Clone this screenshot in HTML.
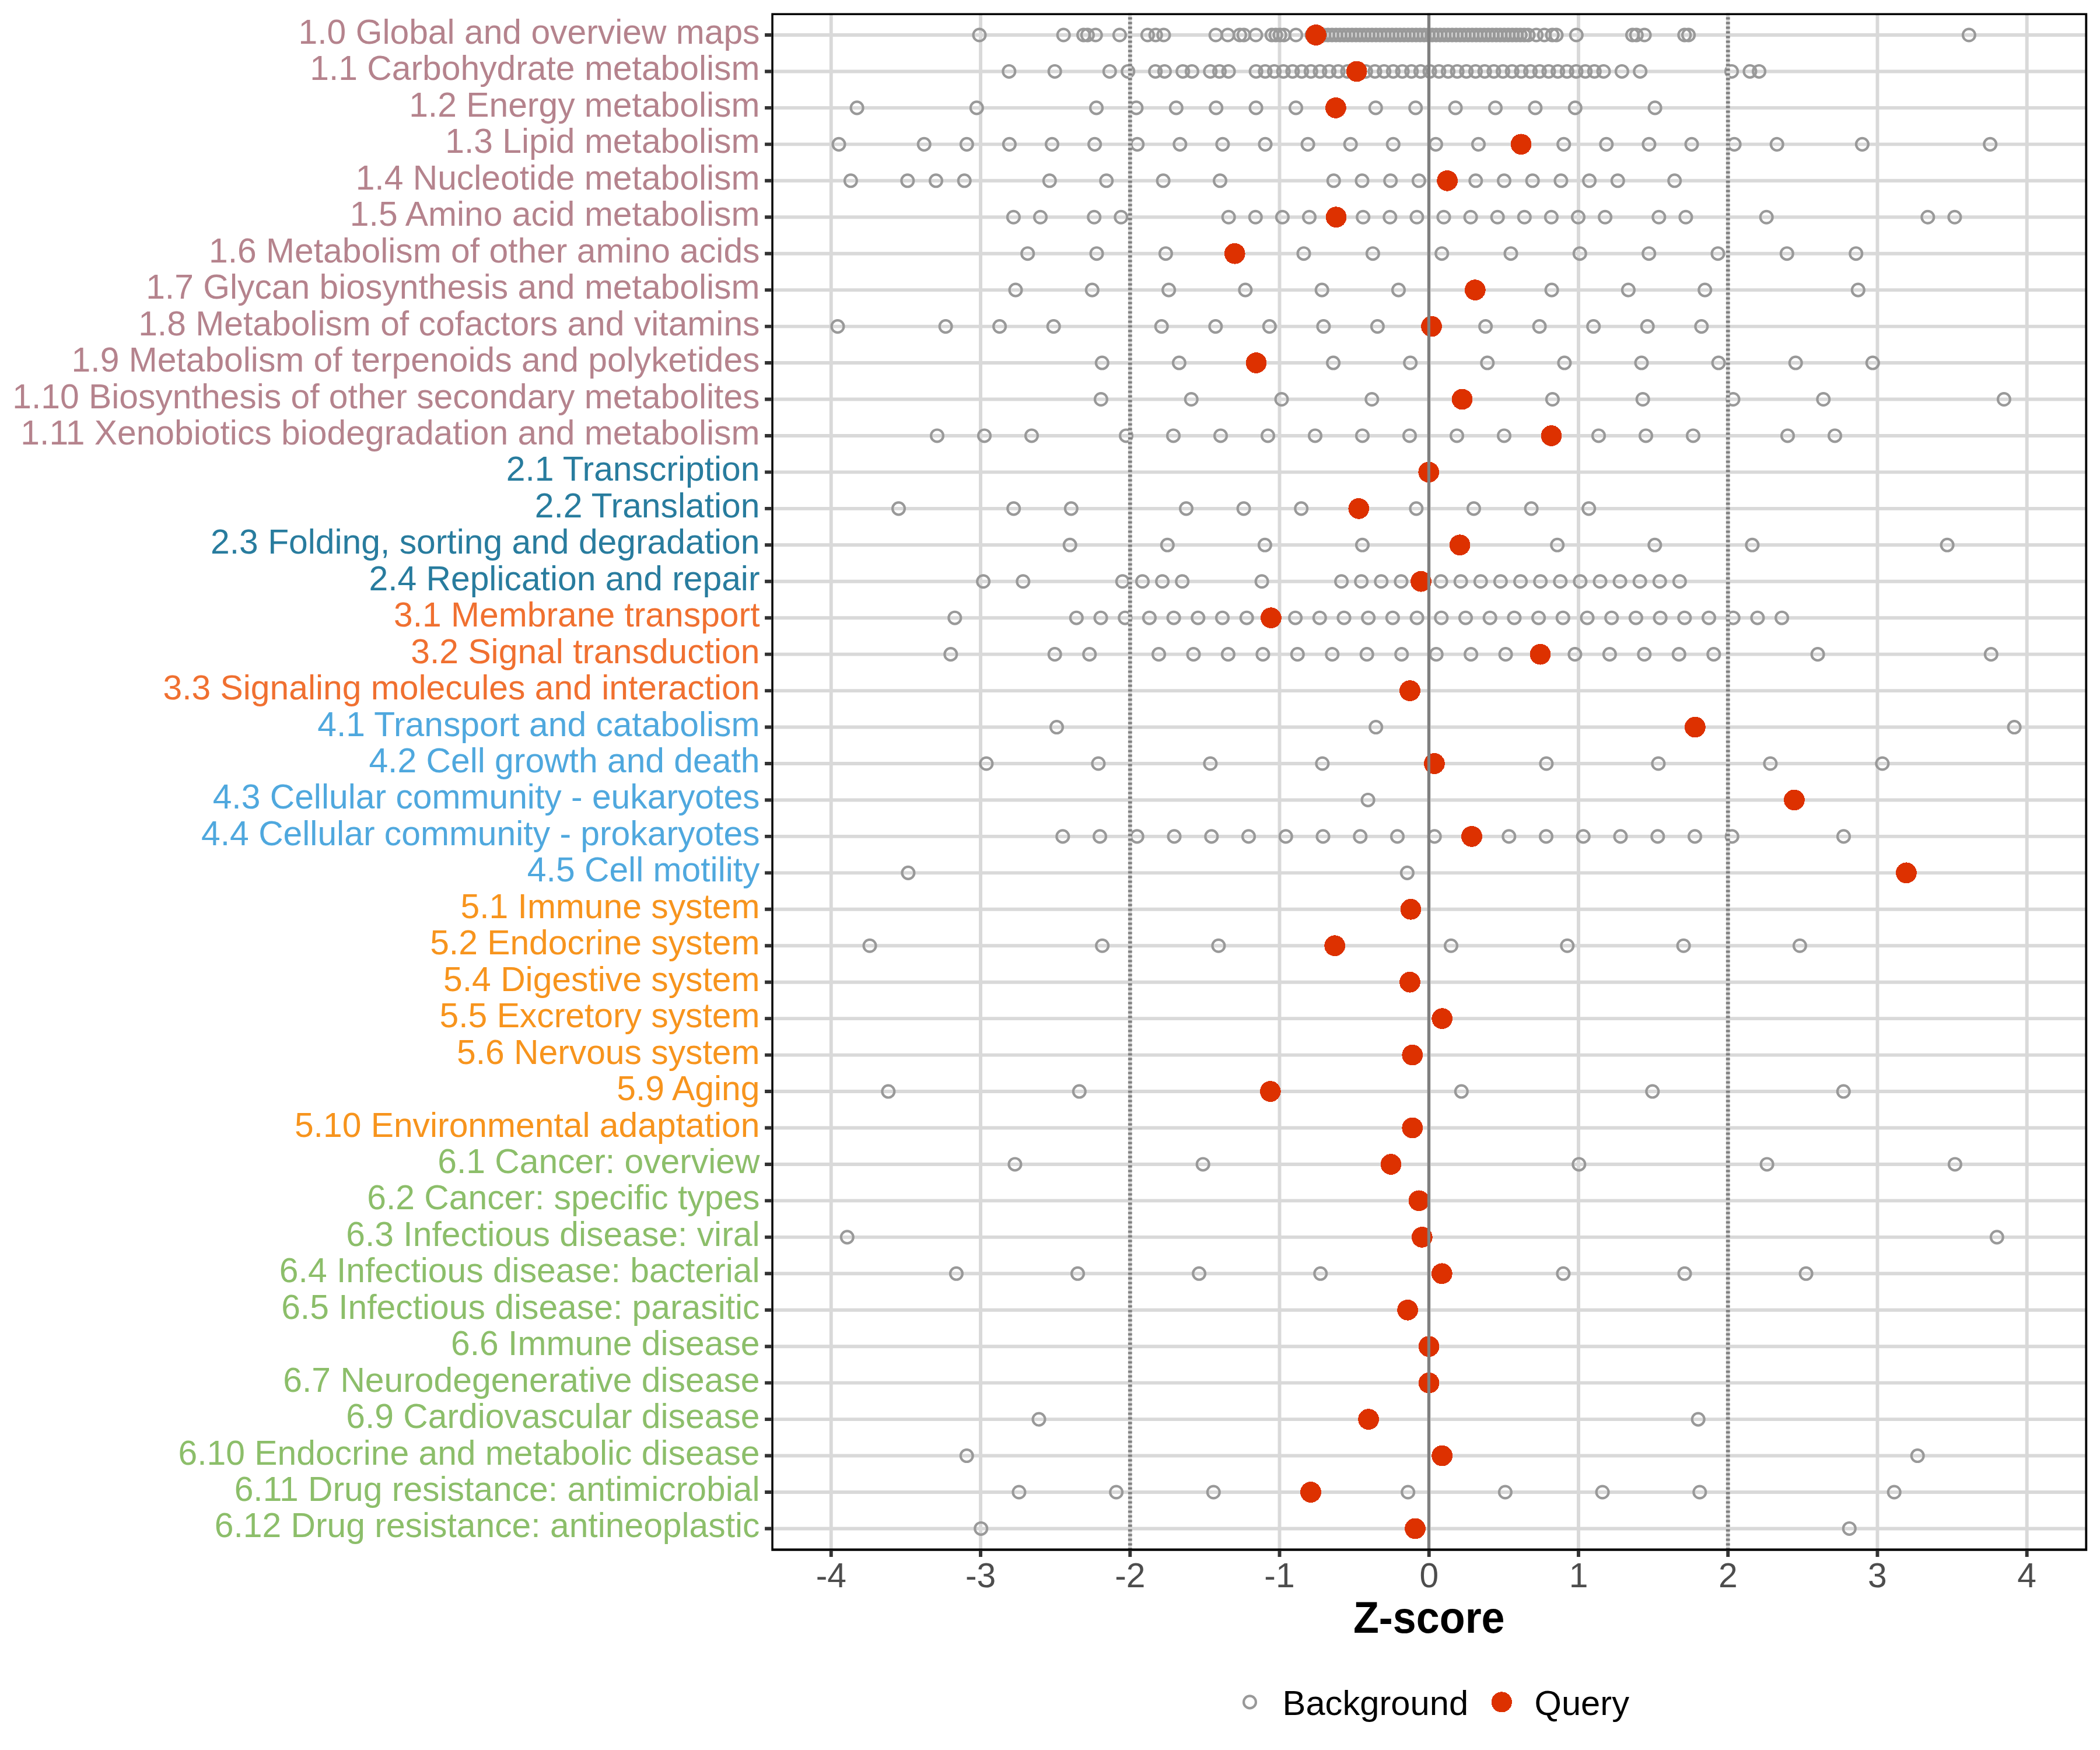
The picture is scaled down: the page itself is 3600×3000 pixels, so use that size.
<!DOCTYPE html><html><head><meta charset="utf-8"><style>html,body{margin:0;padding:0;background:#fff;overflow:hidden}svg{display:block}text{font-family:"Liberation Sans",sans-serif}</style></head><body>
<svg width="3600" height="3000" viewBox="0 0 3600 3000">
<rect width="3600" height="3000" fill="#fff"/>
<clipPath id="pc"><rect x="1322.3" y="22.6" width="2255.8999999999996" height="2636.2000000000003"/></clipPath>
<g clip-path="url(#pc)">
<path d="M1322.3 60.00H3578.2M1322.3 122.45H3578.2M1322.3 184.90H3578.2M1322.3 247.35H3578.2M1322.3 309.80H3578.2M1322.3 372.25H3578.2M1322.3 434.70H3578.2M1322.3 497.15H3578.2M1322.3 559.60H3578.2M1322.3 622.05H3578.2M1322.3 684.50H3578.2M1322.3 746.95H3578.2M1322.3 809.40H3578.2M1322.3 871.85H3578.2M1322.3 934.30H3578.2M1322.3 996.75H3578.2M1322.3 1059.20H3578.2M1322.3 1121.65H3578.2M1322.3 1184.10H3578.2M1322.3 1246.55H3578.2M1322.3 1309.00H3578.2M1322.3 1371.45H3578.2M1322.3 1433.90H3578.2M1322.3 1496.35H3578.2M1322.3 1558.80H3578.2M1322.3 1621.25H3578.2M1322.3 1683.70H3578.2M1322.3 1746.15H3578.2M1322.3 1808.60H3578.2M1322.3 1871.05H3578.2M1322.3 1933.50H3578.2M1322.3 1995.95H3578.2M1322.3 2058.40H3578.2M1322.3 2120.85H3578.2M1322.3 2183.30H3578.2M1322.3 2245.75H3578.2M1322.3 2308.20H3578.2M1322.3 2370.65H3578.2M1322.3 2433.10H3578.2M1322.3 2495.55H3578.2M1322.3 2558.00H3578.2M1322.3 2620.45H3578.2M1424.79 22.6V2658.8M1681.03 22.6V2658.8M1937.27 22.6V2658.8M2193.51 22.6V2658.8M2449.75 22.6V2658.8M2705.99 22.6V2658.8M2962.23 22.6V2658.8M3218.47 22.6V2658.8M3474.71 22.6V2658.8" stroke="#d9d9d9" stroke-width="5.9" fill="none"/>
<circle cx="1679.0" cy="60.00" r="10.45" fill="none" stroke="#999" stroke-width="4.2"/>
<circle cx="1823.2" cy="60.00" r="10.45" fill="none" stroke="#999" stroke-width="4.2"/>
<circle cx="1857.6" cy="60.00" r="10.45" fill="none" stroke="#999" stroke-width="4.2"/>
<circle cx="1864.4" cy="60.00" r="10.45" fill="none" stroke="#999" stroke-width="4.2"/>
<circle cx="1878.2" cy="60.00" r="10.45" fill="none" stroke="#999" stroke-width="4.2"/>
<circle cx="1919.4" cy="60.00" r="10.45" fill="none" stroke="#999" stroke-width="4.2"/>
<circle cx="1967.4" cy="60.00" r="10.45" fill="none" stroke="#999" stroke-width="4.2"/>
<circle cx="1981.2" cy="60.00" r="10.45" fill="none" stroke="#999" stroke-width="4.2"/>
<circle cx="1994.9" cy="60.00" r="10.45" fill="none" stroke="#999" stroke-width="4.2"/>
<circle cx="2084.2" cy="60.00" r="10.45" fill="none" stroke="#999" stroke-width="4.2"/>
<circle cx="2104.8" cy="60.00" r="10.45" fill="none" stroke="#999" stroke-width="4.2"/>
<circle cx="2125.4" cy="60.00" r="10.45" fill="none" stroke="#999" stroke-width="4.2"/>
<circle cx="2132.3" cy="60.00" r="10.45" fill="none" stroke="#999" stroke-width="4.2"/>
<circle cx="2152.9" cy="60.00" r="10.45" fill="none" stroke="#999" stroke-width="4.2"/>
<circle cx="2180.3" cy="60.00" r="10.45" fill="none" stroke="#999" stroke-width="4.2"/>
<circle cx="2187.2" cy="60.00" r="10.45" fill="none" stroke="#999" stroke-width="4.2"/>
<circle cx="2194.1" cy="60.00" r="10.45" fill="none" stroke="#999" stroke-width="4.2"/>
<circle cx="2201.0" cy="60.00" r="10.45" fill="none" stroke="#999" stroke-width="4.2"/>
<circle cx="2221.6" cy="60.00" r="10.45" fill="none" stroke="#999" stroke-width="4.2"/>
<circle cx="2249.0" cy="60.00" r="10.45" fill="none" stroke="#999" stroke-width="4.2"/>
<circle cx="2262.8" cy="60.00" r="10.45" fill="none" stroke="#999" stroke-width="4.2"/>
<circle cx="2269.6" cy="60.00" r="10.45" fill="none" stroke="#999" stroke-width="4.2"/>
<circle cx="2276.5" cy="60.00" r="10.45" fill="none" stroke="#999" stroke-width="4.2"/>
<circle cx="2283.4" cy="60.00" r="10.45" fill="none" stroke="#999" stroke-width="4.2"/>
<circle cx="2290.2" cy="60.00" r="10.45" fill="none" stroke="#999" stroke-width="4.2"/>
<circle cx="2297.1" cy="60.00" r="10.45" fill="none" stroke="#999" stroke-width="4.2"/>
<circle cx="2304.0" cy="60.00" r="10.45" fill="none" stroke="#999" stroke-width="4.2"/>
<circle cx="2310.8" cy="60.00" r="10.45" fill="none" stroke="#999" stroke-width="4.2"/>
<circle cx="2317.7" cy="60.00" r="10.45" fill="none" stroke="#999" stroke-width="4.2"/>
<circle cx="2324.6" cy="60.00" r="10.45" fill="none" stroke="#999" stroke-width="4.2"/>
<circle cx="2331.4" cy="60.00" r="10.45" fill="none" stroke="#999" stroke-width="4.2"/>
<circle cx="2338.3" cy="60.00" r="10.45" fill="none" stroke="#999" stroke-width="4.2"/>
<circle cx="2345.2" cy="60.00" r="10.45" fill="none" stroke="#999" stroke-width="4.2"/>
<circle cx="2352.0" cy="60.00" r="10.45" fill="none" stroke="#999" stroke-width="4.2"/>
<circle cx="2358.9" cy="60.00" r="10.45" fill="none" stroke="#999" stroke-width="4.2"/>
<circle cx="2365.8" cy="60.00" r="10.45" fill="none" stroke="#999" stroke-width="4.2"/>
<circle cx="2372.7" cy="60.00" r="10.45" fill="none" stroke="#999" stroke-width="4.2"/>
<circle cx="2379.5" cy="60.00" r="10.45" fill="none" stroke="#999" stroke-width="4.2"/>
<circle cx="2386.4" cy="60.00" r="10.45" fill="none" stroke="#999" stroke-width="4.2"/>
<circle cx="2393.3" cy="60.00" r="10.45" fill="none" stroke="#999" stroke-width="4.2"/>
<circle cx="2400.1" cy="60.00" r="10.45" fill="none" stroke="#999" stroke-width="4.2"/>
<circle cx="2407.0" cy="60.00" r="10.45" fill="none" stroke="#999" stroke-width="4.2"/>
<circle cx="2413.9" cy="60.00" r="10.45" fill="none" stroke="#999" stroke-width="4.2"/>
<circle cx="2420.7" cy="60.00" r="10.45" fill="none" stroke="#999" stroke-width="4.2"/>
<circle cx="2427.6" cy="60.00" r="10.45" fill="none" stroke="#999" stroke-width="4.2"/>
<circle cx="2434.5" cy="60.00" r="10.45" fill="none" stroke="#999" stroke-width="4.2"/>
<circle cx="2441.3" cy="60.00" r="10.45" fill="none" stroke="#999" stroke-width="4.2"/>
<circle cx="2448.2" cy="60.00" r="10.45" fill="none" stroke="#999" stroke-width="4.2"/>
<circle cx="2455.1" cy="60.00" r="10.45" fill="none" stroke="#999" stroke-width="4.2"/>
<circle cx="2461.9" cy="60.00" r="10.45" fill="none" stroke="#999" stroke-width="4.2"/>
<circle cx="2468.8" cy="60.00" r="10.45" fill="none" stroke="#999" stroke-width="4.2"/>
<circle cx="2475.7" cy="60.00" r="10.45" fill="none" stroke="#999" stroke-width="4.2"/>
<circle cx="2482.5" cy="60.00" r="10.45" fill="none" stroke="#999" stroke-width="4.2"/>
<circle cx="2489.4" cy="60.00" r="10.45" fill="none" stroke="#999" stroke-width="4.2"/>
<circle cx="2496.3" cy="60.00" r="10.45" fill="none" stroke="#999" stroke-width="4.2"/>
<circle cx="2503.1" cy="60.00" r="10.45" fill="none" stroke="#999" stroke-width="4.2"/>
<circle cx="2510.0" cy="60.00" r="10.45" fill="none" stroke="#999" stroke-width="4.2"/>
<circle cx="2516.9" cy="60.00" r="10.45" fill="none" stroke="#999" stroke-width="4.2"/>
<circle cx="2523.7" cy="60.00" r="10.45" fill="none" stroke="#999" stroke-width="4.2"/>
<circle cx="2530.6" cy="60.00" r="10.45" fill="none" stroke="#999" stroke-width="4.2"/>
<circle cx="2537.5" cy="60.00" r="10.45" fill="none" stroke="#999" stroke-width="4.2"/>
<circle cx="2544.4" cy="60.00" r="10.45" fill="none" stroke="#999" stroke-width="4.2"/>
<circle cx="2551.2" cy="60.00" r="10.45" fill="none" stroke="#999" stroke-width="4.2"/>
<circle cx="2558.1" cy="60.00" r="10.45" fill="none" stroke="#999" stroke-width="4.2"/>
<circle cx="2565.0" cy="60.00" r="10.45" fill="none" stroke="#999" stroke-width="4.2"/>
<circle cx="2571.8" cy="60.00" r="10.45" fill="none" stroke="#999" stroke-width="4.2"/>
<circle cx="2578.7" cy="60.00" r="10.45" fill="none" stroke="#999" stroke-width="4.2"/>
<circle cx="2585.6" cy="60.00" r="10.45" fill="none" stroke="#999" stroke-width="4.2"/>
<circle cx="2592.4" cy="60.00" r="10.45" fill="none" stroke="#999" stroke-width="4.2"/>
<circle cx="2599.3" cy="60.00" r="10.45" fill="none" stroke="#999" stroke-width="4.2"/>
<circle cx="2606.2" cy="60.00" r="10.45" fill="none" stroke="#999" stroke-width="4.2"/>
<circle cx="2613.0" cy="60.00" r="10.45" fill="none" stroke="#999" stroke-width="4.2"/>
<circle cx="2619.9" cy="60.00" r="10.45" fill="none" stroke="#999" stroke-width="4.2"/>
<circle cx="2633.6" cy="60.00" r="10.45" fill="none" stroke="#999" stroke-width="4.2"/>
<circle cx="2647.4" cy="60.00" r="10.45" fill="none" stroke="#999" stroke-width="4.2"/>
<circle cx="2661.1" cy="60.00" r="10.45" fill="none" stroke="#999" stroke-width="4.2"/>
<circle cx="2668.0" cy="60.00" r="10.45" fill="none" stroke="#999" stroke-width="4.2"/>
<circle cx="2702.3" cy="60.00" r="10.45" fill="none" stroke="#999" stroke-width="4.2"/>
<circle cx="2798.5" cy="60.00" r="10.45" fill="none" stroke="#999" stroke-width="4.2"/>
<circle cx="2805.3" cy="60.00" r="10.45" fill="none" stroke="#999" stroke-width="4.2"/>
<circle cx="2819.1" cy="60.00" r="10.45" fill="none" stroke="#999" stroke-width="4.2"/>
<circle cx="2887.8" cy="60.00" r="10.45" fill="none" stroke="#999" stroke-width="4.2"/>
<circle cx="2894.6" cy="60.00" r="10.45" fill="none" stroke="#999" stroke-width="4.2"/>
<circle cx="3375.4" cy="60.00" r="10.45" fill="none" stroke="#999" stroke-width="4.2"/>
<circle cx="1729.8" cy="122.45" r="10.45" fill="none" stroke="#999" stroke-width="4.2"/>
<circle cx="1808.2" cy="122.45" r="10.45" fill="none" stroke="#999" stroke-width="4.2"/>
<circle cx="1902.3" cy="122.45" r="10.45" fill="none" stroke="#999" stroke-width="4.2"/>
<circle cx="1933.7" cy="122.45" r="10.45" fill="none" stroke="#999" stroke-width="4.2"/>
<circle cx="1980.7" cy="122.45" r="10.45" fill="none" stroke="#999" stroke-width="4.2"/>
<circle cx="1996.4" cy="122.45" r="10.45" fill="none" stroke="#999" stroke-width="4.2"/>
<circle cx="2027.7" cy="122.45" r="10.45" fill="none" stroke="#999" stroke-width="4.2"/>
<circle cx="2043.4" cy="122.45" r="10.45" fill="none" stroke="#999" stroke-width="4.2"/>
<circle cx="2074.8" cy="122.45" r="10.45" fill="none" stroke="#999" stroke-width="4.2"/>
<circle cx="2090.5" cy="122.45" r="10.45" fill="none" stroke="#999" stroke-width="4.2"/>
<circle cx="2106.1" cy="122.45" r="10.45" fill="none" stroke="#999" stroke-width="4.2"/>
<circle cx="2153.2" cy="122.45" r="10.45" fill="none" stroke="#999" stroke-width="4.2"/>
<circle cx="2168.9" cy="122.45" r="10.45" fill="none" stroke="#999" stroke-width="4.2"/>
<circle cx="2184.5" cy="122.45" r="10.45" fill="none" stroke="#999" stroke-width="4.2"/>
<circle cx="2200.2" cy="122.45" r="10.45" fill="none" stroke="#999" stroke-width="4.2"/>
<circle cx="2215.9" cy="122.45" r="10.45" fill="none" stroke="#999" stroke-width="4.2"/>
<circle cx="2231.6" cy="122.45" r="10.45" fill="none" stroke="#999" stroke-width="4.2"/>
<circle cx="2247.3" cy="122.45" r="10.45" fill="none" stroke="#999" stroke-width="4.2"/>
<circle cx="2262.9" cy="122.45" r="10.45" fill="none" stroke="#999" stroke-width="4.2"/>
<circle cx="2278.6" cy="122.45" r="10.45" fill="none" stroke="#999" stroke-width="4.2"/>
<circle cx="2294.3" cy="122.45" r="10.45" fill="none" stroke="#999" stroke-width="4.2"/>
<circle cx="2310.0" cy="122.45" r="10.45" fill="none" stroke="#999" stroke-width="4.2"/>
<circle cx="2341.3" cy="122.45" r="10.45" fill="none" stroke="#999" stroke-width="4.2"/>
<circle cx="2357.0" cy="122.45" r="10.45" fill="none" stroke="#999" stroke-width="4.2"/>
<circle cx="2372.7" cy="122.45" r="10.45" fill="none" stroke="#999" stroke-width="4.2"/>
<circle cx="2388.4" cy="122.45" r="10.45" fill="none" stroke="#999" stroke-width="4.2"/>
<circle cx="2404.1" cy="122.45" r="10.45" fill="none" stroke="#999" stroke-width="4.2"/>
<circle cx="2419.7" cy="122.45" r="10.45" fill="none" stroke="#999" stroke-width="4.2"/>
<circle cx="2435.4" cy="122.45" r="10.45" fill="none" stroke="#999" stroke-width="4.2"/>
<circle cx="2451.1" cy="122.45" r="10.45" fill="none" stroke="#999" stroke-width="4.2"/>
<circle cx="2466.8" cy="122.45" r="10.45" fill="none" stroke="#999" stroke-width="4.2"/>
<circle cx="2482.5" cy="122.45" r="10.45" fill="none" stroke="#999" stroke-width="4.2"/>
<circle cx="2498.1" cy="122.45" r="10.45" fill="none" stroke="#999" stroke-width="4.2"/>
<circle cx="2513.8" cy="122.45" r="10.45" fill="none" stroke="#999" stroke-width="4.2"/>
<circle cx="2529.5" cy="122.45" r="10.45" fill="none" stroke="#999" stroke-width="4.2"/>
<circle cx="2545.2" cy="122.45" r="10.45" fill="none" stroke="#999" stroke-width="4.2"/>
<circle cx="2560.9" cy="122.45" r="10.45" fill="none" stroke="#999" stroke-width="4.2"/>
<circle cx="2576.5" cy="122.45" r="10.45" fill="none" stroke="#999" stroke-width="4.2"/>
<circle cx="2592.2" cy="122.45" r="10.45" fill="none" stroke="#999" stroke-width="4.2"/>
<circle cx="2607.9" cy="122.45" r="10.45" fill="none" stroke="#999" stroke-width="4.2"/>
<circle cx="2623.6" cy="122.45" r="10.45" fill="none" stroke="#999" stroke-width="4.2"/>
<circle cx="2639.3" cy="122.45" r="10.45" fill="none" stroke="#999" stroke-width="4.2"/>
<circle cx="2654.9" cy="122.45" r="10.45" fill="none" stroke="#999" stroke-width="4.2"/>
<circle cx="2670.6" cy="122.45" r="10.45" fill="none" stroke="#999" stroke-width="4.2"/>
<circle cx="2686.3" cy="122.45" r="10.45" fill="none" stroke="#999" stroke-width="4.2"/>
<circle cx="2702.0" cy="122.45" r="10.45" fill="none" stroke="#999" stroke-width="4.2"/>
<circle cx="2717.7" cy="122.45" r="10.45" fill="none" stroke="#999" stroke-width="4.2"/>
<circle cx="2733.3" cy="122.45" r="10.45" fill="none" stroke="#999" stroke-width="4.2"/>
<circle cx="2749.0" cy="122.45" r="10.45" fill="none" stroke="#999" stroke-width="4.2"/>
<circle cx="2780.4" cy="122.45" r="10.45" fill="none" stroke="#999" stroke-width="4.2"/>
<circle cx="2811.7" cy="122.45" r="10.45" fill="none" stroke="#999" stroke-width="4.2"/>
<circle cx="2968.5" cy="122.45" r="10.45" fill="none" stroke="#999" stroke-width="4.2"/>
<circle cx="2999.9" cy="122.45" r="10.45" fill="none" stroke="#999" stroke-width="4.2"/>
<circle cx="3015.6" cy="122.45" r="10.45" fill="none" stroke="#999" stroke-width="4.2"/>
<circle cx="1469.1" cy="184.90" r="10.45" fill="none" stroke="#999" stroke-width="4.2"/>
<circle cx="1674.3" cy="184.90" r="10.45" fill="none" stroke="#999" stroke-width="4.2"/>
<circle cx="1879.5" cy="184.90" r="10.45" fill="none" stroke="#999" stroke-width="4.2"/>
<circle cx="1947.9" cy="184.90" r="10.45" fill="none" stroke="#999" stroke-width="4.2"/>
<circle cx="2016.3" cy="184.90" r="10.45" fill="none" stroke="#999" stroke-width="4.2"/>
<circle cx="2084.7" cy="184.90" r="10.45" fill="none" stroke="#999" stroke-width="4.2"/>
<circle cx="2153.1" cy="184.90" r="10.45" fill="none" stroke="#999" stroke-width="4.2"/>
<circle cx="2221.5" cy="184.90" r="10.45" fill="none" stroke="#999" stroke-width="4.2"/>
<circle cx="2358.3" cy="184.90" r="10.45" fill="none" stroke="#999" stroke-width="4.2"/>
<circle cx="2426.7" cy="184.90" r="10.45" fill="none" stroke="#999" stroke-width="4.2"/>
<circle cx="2495.1" cy="184.90" r="10.45" fill="none" stroke="#999" stroke-width="4.2"/>
<circle cx="2563.5" cy="184.90" r="10.45" fill="none" stroke="#999" stroke-width="4.2"/>
<circle cx="2631.9" cy="184.90" r="10.45" fill="none" stroke="#999" stroke-width="4.2"/>
<circle cx="2700.3" cy="184.90" r="10.45" fill="none" stroke="#999" stroke-width="4.2"/>
<circle cx="2837.1" cy="184.90" r="10.45" fill="none" stroke="#999" stroke-width="4.2"/>
<circle cx="1438.0" cy="247.35" r="10.45" fill="none" stroke="#999" stroke-width="4.2"/>
<circle cx="1584.2" cy="247.35" r="10.45" fill="none" stroke="#999" stroke-width="4.2"/>
<circle cx="1657.3" cy="247.35" r="10.45" fill="none" stroke="#999" stroke-width="4.2"/>
<circle cx="1730.4" cy="247.35" r="10.45" fill="none" stroke="#999" stroke-width="4.2"/>
<circle cx="1803.5" cy="247.35" r="10.45" fill="none" stroke="#999" stroke-width="4.2"/>
<circle cx="1876.6" cy="247.35" r="10.45" fill="none" stroke="#999" stroke-width="4.2"/>
<circle cx="1949.7" cy="247.35" r="10.45" fill="none" stroke="#999" stroke-width="4.2"/>
<circle cx="2022.8" cy="247.35" r="10.45" fill="none" stroke="#999" stroke-width="4.2"/>
<circle cx="2095.9" cy="247.35" r="10.45" fill="none" stroke="#999" stroke-width="4.2"/>
<circle cx="2169.0" cy="247.35" r="10.45" fill="none" stroke="#999" stroke-width="4.2"/>
<circle cx="2242.1" cy="247.35" r="10.45" fill="none" stroke="#999" stroke-width="4.2"/>
<circle cx="2315.2" cy="247.35" r="10.45" fill="none" stroke="#999" stroke-width="4.2"/>
<circle cx="2388.3" cy="247.35" r="10.45" fill="none" stroke="#999" stroke-width="4.2"/>
<circle cx="2461.4" cy="247.35" r="10.45" fill="none" stroke="#999" stroke-width="4.2"/>
<circle cx="2534.5" cy="247.35" r="10.45" fill="none" stroke="#999" stroke-width="4.2"/>
<circle cx="2680.7" cy="247.35" r="10.45" fill="none" stroke="#999" stroke-width="4.2"/>
<circle cx="2753.8" cy="247.35" r="10.45" fill="none" stroke="#999" stroke-width="4.2"/>
<circle cx="2826.9" cy="247.35" r="10.45" fill="none" stroke="#999" stroke-width="4.2"/>
<circle cx="2900.0" cy="247.35" r="10.45" fill="none" stroke="#999" stroke-width="4.2"/>
<circle cx="2973.1" cy="247.35" r="10.45" fill="none" stroke="#999" stroke-width="4.2"/>
<circle cx="3046.2" cy="247.35" r="10.45" fill="none" stroke="#999" stroke-width="4.2"/>
<circle cx="3192.4" cy="247.35" r="10.45" fill="none" stroke="#999" stroke-width="4.2"/>
<circle cx="3411.7" cy="247.35" r="10.45" fill="none" stroke="#999" stroke-width="4.2"/>
<circle cx="1458.4" cy="309.80" r="10.45" fill="none" stroke="#999" stroke-width="4.2"/>
<circle cx="1555.8" cy="309.80" r="10.45" fill="none" stroke="#999" stroke-width="4.2"/>
<circle cx="1604.5" cy="309.80" r="10.45" fill="none" stroke="#999" stroke-width="4.2"/>
<circle cx="1653.2" cy="309.80" r="10.45" fill="none" stroke="#999" stroke-width="4.2"/>
<circle cx="1799.3" cy="309.80" r="10.45" fill="none" stroke="#999" stroke-width="4.2"/>
<circle cx="1896.7" cy="309.80" r="10.45" fill="none" stroke="#999" stroke-width="4.2"/>
<circle cx="1994.1" cy="309.80" r="10.45" fill="none" stroke="#999" stroke-width="4.2"/>
<circle cx="2091.5" cy="309.80" r="10.45" fill="none" stroke="#999" stroke-width="4.2"/>
<circle cx="2286.3" cy="309.80" r="10.45" fill="none" stroke="#999" stroke-width="4.2"/>
<circle cx="2335.0" cy="309.80" r="10.45" fill="none" stroke="#999" stroke-width="4.2"/>
<circle cx="2383.7" cy="309.80" r="10.45" fill="none" stroke="#999" stroke-width="4.2"/>
<circle cx="2432.4" cy="309.80" r="10.45" fill="none" stroke="#999" stroke-width="4.2"/>
<circle cx="2529.8" cy="309.80" r="10.45" fill="none" stroke="#999" stroke-width="4.2"/>
<circle cx="2578.5" cy="309.80" r="10.45" fill="none" stroke="#999" stroke-width="4.2"/>
<circle cx="2627.2" cy="309.80" r="10.45" fill="none" stroke="#999" stroke-width="4.2"/>
<circle cx="2675.9" cy="309.80" r="10.45" fill="none" stroke="#999" stroke-width="4.2"/>
<circle cx="2724.6" cy="309.80" r="10.45" fill="none" stroke="#999" stroke-width="4.2"/>
<circle cx="2773.3" cy="309.80" r="10.45" fill="none" stroke="#999" stroke-width="4.2"/>
<circle cx="2870.7" cy="309.80" r="10.45" fill="none" stroke="#999" stroke-width="4.2"/>
<circle cx="1737.4" cy="372.25" r="10.45" fill="none" stroke="#999" stroke-width="4.2"/>
<circle cx="1783.5" cy="372.25" r="10.45" fill="none" stroke="#999" stroke-width="4.2"/>
<circle cx="1875.7" cy="372.25" r="10.45" fill="none" stroke="#999" stroke-width="4.2"/>
<circle cx="1921.8" cy="372.25" r="10.45" fill="none" stroke="#999" stroke-width="4.2"/>
<circle cx="2106.2" cy="372.25" r="10.45" fill="none" stroke="#999" stroke-width="4.2"/>
<circle cx="2152.3" cy="372.25" r="10.45" fill="none" stroke="#999" stroke-width="4.2"/>
<circle cx="2198.4" cy="372.25" r="10.45" fill="none" stroke="#999" stroke-width="4.2"/>
<circle cx="2244.5" cy="372.25" r="10.45" fill="none" stroke="#999" stroke-width="4.2"/>
<circle cx="2336.7" cy="372.25" r="10.45" fill="none" stroke="#999" stroke-width="4.2"/>
<circle cx="2382.8" cy="372.25" r="10.45" fill="none" stroke="#999" stroke-width="4.2"/>
<circle cx="2428.9" cy="372.25" r="10.45" fill="none" stroke="#999" stroke-width="4.2"/>
<circle cx="2475.0" cy="372.25" r="10.45" fill="none" stroke="#999" stroke-width="4.2"/>
<circle cx="2521.1" cy="372.25" r="10.45" fill="none" stroke="#999" stroke-width="4.2"/>
<circle cx="2567.2" cy="372.25" r="10.45" fill="none" stroke="#999" stroke-width="4.2"/>
<circle cx="2613.3" cy="372.25" r="10.45" fill="none" stroke="#999" stroke-width="4.2"/>
<circle cx="2659.4" cy="372.25" r="10.45" fill="none" stroke="#999" stroke-width="4.2"/>
<circle cx="2705.5" cy="372.25" r="10.45" fill="none" stroke="#999" stroke-width="4.2"/>
<circle cx="2751.6" cy="372.25" r="10.45" fill="none" stroke="#999" stroke-width="4.2"/>
<circle cx="2843.8" cy="372.25" r="10.45" fill="none" stroke="#999" stroke-width="4.2"/>
<circle cx="2889.9" cy="372.25" r="10.45" fill="none" stroke="#999" stroke-width="4.2"/>
<circle cx="3028.2" cy="372.25" r="10.45" fill="none" stroke="#999" stroke-width="4.2"/>
<circle cx="3304.8" cy="372.25" r="10.45" fill="none" stroke="#999" stroke-width="4.2"/>
<circle cx="3350.9" cy="372.25" r="10.45" fill="none" stroke="#999" stroke-width="4.2"/>
<circle cx="1761.7" cy="434.70" r="10.45" fill="none" stroke="#999" stroke-width="4.2"/>
<circle cx="1880.0" cy="434.70" r="10.45" fill="none" stroke="#999" stroke-width="4.2"/>
<circle cx="1998.4" cy="434.70" r="10.45" fill="none" stroke="#999" stroke-width="4.2"/>
<circle cx="2235.0" cy="434.70" r="10.45" fill="none" stroke="#999" stroke-width="4.2"/>
<circle cx="2353.4" cy="434.70" r="10.45" fill="none" stroke="#999" stroke-width="4.2"/>
<circle cx="2471.7" cy="434.70" r="10.45" fill="none" stroke="#999" stroke-width="4.2"/>
<circle cx="2590.0" cy="434.70" r="10.45" fill="none" stroke="#999" stroke-width="4.2"/>
<circle cx="2708.3" cy="434.70" r="10.45" fill="none" stroke="#999" stroke-width="4.2"/>
<circle cx="2826.7" cy="434.70" r="10.45" fill="none" stroke="#999" stroke-width="4.2"/>
<circle cx="2945.0" cy="434.70" r="10.45" fill="none" stroke="#999" stroke-width="4.2"/>
<circle cx="3063.3" cy="434.70" r="10.45" fill="none" stroke="#999" stroke-width="4.2"/>
<circle cx="3181.7" cy="434.70" r="10.45" fill="none" stroke="#999" stroke-width="4.2"/>
<circle cx="1741.0" cy="497.15" r="10.45" fill="none" stroke="#999" stroke-width="4.2"/>
<circle cx="1872.3" cy="497.15" r="10.45" fill="none" stroke="#999" stroke-width="4.2"/>
<circle cx="2003.6" cy="497.15" r="10.45" fill="none" stroke="#999" stroke-width="4.2"/>
<circle cx="2134.9" cy="497.15" r="10.45" fill="none" stroke="#999" stroke-width="4.2"/>
<circle cx="2266.2" cy="497.15" r="10.45" fill="none" stroke="#999" stroke-width="4.2"/>
<circle cx="2397.5" cy="497.15" r="10.45" fill="none" stroke="#999" stroke-width="4.2"/>
<circle cx="2660.1" cy="497.15" r="10.45" fill="none" stroke="#999" stroke-width="4.2"/>
<circle cx="2791.4" cy="497.15" r="10.45" fill="none" stroke="#999" stroke-width="4.2"/>
<circle cx="2922.7" cy="497.15" r="10.45" fill="none" stroke="#999" stroke-width="4.2"/>
<circle cx="3185.3" cy="497.15" r="10.45" fill="none" stroke="#999" stroke-width="4.2"/>
<circle cx="1436.0" cy="559.60" r="10.45" fill="none" stroke="#999" stroke-width="4.2"/>
<circle cx="1621.1" cy="559.60" r="10.45" fill="none" stroke="#999" stroke-width="4.2"/>
<circle cx="1713.6" cy="559.60" r="10.45" fill="none" stroke="#999" stroke-width="4.2"/>
<circle cx="1806.2" cy="559.60" r="10.45" fill="none" stroke="#999" stroke-width="4.2"/>
<circle cx="1991.2" cy="559.60" r="10.45" fill="none" stroke="#999" stroke-width="4.2"/>
<circle cx="2083.8" cy="559.60" r="10.45" fill="none" stroke="#999" stroke-width="4.2"/>
<circle cx="2176.3" cy="559.60" r="10.45" fill="none" stroke="#999" stroke-width="4.2"/>
<circle cx="2268.9" cy="559.60" r="10.45" fill="none" stroke="#999" stroke-width="4.2"/>
<circle cx="2361.4" cy="559.60" r="10.45" fill="none" stroke="#999" stroke-width="4.2"/>
<circle cx="2546.6" cy="559.60" r="10.45" fill="none" stroke="#999" stroke-width="4.2"/>
<circle cx="2639.1" cy="559.60" r="10.45" fill="none" stroke="#999" stroke-width="4.2"/>
<circle cx="2731.7" cy="559.60" r="10.45" fill="none" stroke="#999" stroke-width="4.2"/>
<circle cx="2824.2" cy="559.60" r="10.45" fill="none" stroke="#999" stroke-width="4.2"/>
<circle cx="2916.8" cy="559.60" r="10.45" fill="none" stroke="#999" stroke-width="4.2"/>
<circle cx="1889.3" cy="622.05" r="10.45" fill="none" stroke="#999" stroke-width="4.2"/>
<circle cx="2021.4" cy="622.05" r="10.45" fill="none" stroke="#999" stroke-width="4.2"/>
<circle cx="2285.6" cy="622.05" r="10.45" fill="none" stroke="#999" stroke-width="4.2"/>
<circle cx="2417.7" cy="622.05" r="10.45" fill="none" stroke="#999" stroke-width="4.2"/>
<circle cx="2549.8" cy="622.05" r="10.45" fill="none" stroke="#999" stroke-width="4.2"/>
<circle cx="2681.9" cy="622.05" r="10.45" fill="none" stroke="#999" stroke-width="4.2"/>
<circle cx="2814.0" cy="622.05" r="10.45" fill="none" stroke="#999" stroke-width="4.2"/>
<circle cx="2946.1" cy="622.05" r="10.45" fill="none" stroke="#999" stroke-width="4.2"/>
<circle cx="3078.2" cy="622.05" r="10.45" fill="none" stroke="#999" stroke-width="4.2"/>
<circle cx="3210.3" cy="622.05" r="10.45" fill="none" stroke="#999" stroke-width="4.2"/>
<circle cx="1887.4" cy="684.50" r="10.45" fill="none" stroke="#999" stroke-width="4.2"/>
<circle cx="2042.2" cy="684.50" r="10.45" fill="none" stroke="#999" stroke-width="4.2"/>
<circle cx="2197.0" cy="684.50" r="10.45" fill="none" stroke="#999" stroke-width="4.2"/>
<circle cx="2351.8" cy="684.50" r="10.45" fill="none" stroke="#999" stroke-width="4.2"/>
<circle cx="2661.4" cy="684.50" r="10.45" fill="none" stroke="#999" stroke-width="4.2"/>
<circle cx="2816.2" cy="684.50" r="10.45" fill="none" stroke="#999" stroke-width="4.2"/>
<circle cx="2971.0" cy="684.50" r="10.45" fill="none" stroke="#999" stroke-width="4.2"/>
<circle cx="3125.8" cy="684.50" r="10.45" fill="none" stroke="#999" stroke-width="4.2"/>
<circle cx="3435.4" cy="684.50" r="10.45" fill="none" stroke="#999" stroke-width="4.2"/>
<circle cx="1606.5" cy="746.95" r="10.45" fill="none" stroke="#999" stroke-width="4.2"/>
<circle cx="1687.5" cy="746.95" r="10.45" fill="none" stroke="#999" stroke-width="4.2"/>
<circle cx="1768.5" cy="746.95" r="10.45" fill="none" stroke="#999" stroke-width="4.2"/>
<circle cx="1930.5" cy="746.95" r="10.45" fill="none" stroke="#999" stroke-width="4.2"/>
<circle cx="2011.5" cy="746.95" r="10.45" fill="none" stroke="#999" stroke-width="4.2"/>
<circle cx="2092.5" cy="746.95" r="10.45" fill="none" stroke="#999" stroke-width="4.2"/>
<circle cx="2173.5" cy="746.95" r="10.45" fill="none" stroke="#999" stroke-width="4.2"/>
<circle cx="2254.5" cy="746.95" r="10.45" fill="none" stroke="#999" stroke-width="4.2"/>
<circle cx="2335.5" cy="746.95" r="10.45" fill="none" stroke="#999" stroke-width="4.2"/>
<circle cx="2416.5" cy="746.95" r="10.45" fill="none" stroke="#999" stroke-width="4.2"/>
<circle cx="2497.5" cy="746.95" r="10.45" fill="none" stroke="#999" stroke-width="4.2"/>
<circle cx="2578.5" cy="746.95" r="10.45" fill="none" stroke="#999" stroke-width="4.2"/>
<circle cx="2740.5" cy="746.95" r="10.45" fill="none" stroke="#999" stroke-width="4.2"/>
<circle cx="2821.5" cy="746.95" r="10.45" fill="none" stroke="#999" stroke-width="4.2"/>
<circle cx="2902.5" cy="746.95" r="10.45" fill="none" stroke="#999" stroke-width="4.2"/>
<circle cx="3064.5" cy="746.95" r="10.45" fill="none" stroke="#999" stroke-width="4.2"/>
<circle cx="3145.5" cy="746.95" r="10.45" fill="none" stroke="#999" stroke-width="4.2"/>
<circle cx="1540.5" cy="871.85" r="10.45" fill="none" stroke="#999" stroke-width="4.2"/>
<circle cx="1737.7" cy="871.85" r="10.45" fill="none" stroke="#999" stroke-width="4.2"/>
<circle cx="1836.3" cy="871.85" r="10.45" fill="none" stroke="#999" stroke-width="4.2"/>
<circle cx="2033.5" cy="871.85" r="10.45" fill="none" stroke="#999" stroke-width="4.2"/>
<circle cx="2132.1" cy="871.85" r="10.45" fill="none" stroke="#999" stroke-width="4.2"/>
<circle cx="2230.7" cy="871.85" r="10.45" fill="none" stroke="#999" stroke-width="4.2"/>
<circle cx="2427.9" cy="871.85" r="10.45" fill="none" stroke="#999" stroke-width="4.2"/>
<circle cx="2526.5" cy="871.85" r="10.45" fill="none" stroke="#999" stroke-width="4.2"/>
<circle cx="2625.1" cy="871.85" r="10.45" fill="none" stroke="#999" stroke-width="4.2"/>
<circle cx="2723.7" cy="871.85" r="10.45" fill="none" stroke="#999" stroke-width="4.2"/>
<circle cx="1834.2" cy="934.30" r="10.45" fill="none" stroke="#999" stroke-width="4.2"/>
<circle cx="2001.3" cy="934.30" r="10.45" fill="none" stroke="#999" stroke-width="4.2"/>
<circle cx="2168.4" cy="934.30" r="10.45" fill="none" stroke="#999" stroke-width="4.2"/>
<circle cx="2335.5" cy="934.30" r="10.45" fill="none" stroke="#999" stroke-width="4.2"/>
<circle cx="2669.7" cy="934.30" r="10.45" fill="none" stroke="#999" stroke-width="4.2"/>
<circle cx="2836.8" cy="934.30" r="10.45" fill="none" stroke="#999" stroke-width="4.2"/>
<circle cx="3003.9" cy="934.30" r="10.45" fill="none" stroke="#999" stroke-width="4.2"/>
<circle cx="3338.1" cy="934.30" r="10.45" fill="none" stroke="#999" stroke-width="4.2"/>
<circle cx="1685.6" cy="996.75" r="10.45" fill="none" stroke="#999" stroke-width="4.2"/>
<circle cx="1753.8" cy="996.75" r="10.45" fill="none" stroke="#999" stroke-width="4.2"/>
<circle cx="1924.3" cy="996.75" r="10.45" fill="none" stroke="#999" stroke-width="4.2"/>
<circle cx="1958.5" cy="996.75" r="10.45" fill="none" stroke="#999" stroke-width="4.2"/>
<circle cx="1992.6" cy="996.75" r="10.45" fill="none" stroke="#999" stroke-width="4.2"/>
<circle cx="2026.7" cy="996.75" r="10.45" fill="none" stroke="#999" stroke-width="4.2"/>
<circle cx="2163.1" cy="996.75" r="10.45" fill="none" stroke="#999" stroke-width="4.2"/>
<circle cx="2299.6" cy="996.75" r="10.45" fill="none" stroke="#999" stroke-width="4.2"/>
<circle cx="2333.7" cy="996.75" r="10.45" fill="none" stroke="#999" stroke-width="4.2"/>
<circle cx="2367.8" cy="996.75" r="10.45" fill="none" stroke="#999" stroke-width="4.2"/>
<circle cx="2401.9" cy="996.75" r="10.45" fill="none" stroke="#999" stroke-width="4.2"/>
<circle cx="2470.1" cy="996.75" r="10.45" fill="none" stroke="#999" stroke-width="4.2"/>
<circle cx="2504.2" cy="996.75" r="10.45" fill="none" stroke="#999" stroke-width="4.2"/>
<circle cx="2538.3" cy="996.75" r="10.45" fill="none" stroke="#999" stroke-width="4.2"/>
<circle cx="2572.4" cy="996.75" r="10.45" fill="none" stroke="#999" stroke-width="4.2"/>
<circle cx="2606.6" cy="996.75" r="10.45" fill="none" stroke="#999" stroke-width="4.2"/>
<circle cx="2640.7" cy="996.75" r="10.45" fill="none" stroke="#999" stroke-width="4.2"/>
<circle cx="2674.8" cy="996.75" r="10.45" fill="none" stroke="#999" stroke-width="4.2"/>
<circle cx="2708.9" cy="996.75" r="10.45" fill="none" stroke="#999" stroke-width="4.2"/>
<circle cx="2743.0" cy="996.75" r="10.45" fill="none" stroke="#999" stroke-width="4.2"/>
<circle cx="2777.1" cy="996.75" r="10.45" fill="none" stroke="#999" stroke-width="4.2"/>
<circle cx="2811.2" cy="996.75" r="10.45" fill="none" stroke="#999" stroke-width="4.2"/>
<circle cx="2845.3" cy="996.75" r="10.45" fill="none" stroke="#999" stroke-width="4.2"/>
<circle cx="2879.4" cy="996.75" r="10.45" fill="none" stroke="#999" stroke-width="4.2"/>
<circle cx="1636.8" cy="1059.20" r="10.45" fill="none" stroke="#999" stroke-width="4.2"/>
<circle cx="1845.3" cy="1059.20" r="10.45" fill="none" stroke="#999" stroke-width="4.2"/>
<circle cx="1887.0" cy="1059.20" r="10.45" fill="none" stroke="#999" stroke-width="4.2"/>
<circle cx="1928.7" cy="1059.20" r="10.45" fill="none" stroke="#999" stroke-width="4.2"/>
<circle cx="1970.4" cy="1059.20" r="10.45" fill="none" stroke="#999" stroke-width="4.2"/>
<circle cx="2012.1" cy="1059.20" r="10.45" fill="none" stroke="#999" stroke-width="4.2"/>
<circle cx="2053.8" cy="1059.20" r="10.45" fill="none" stroke="#999" stroke-width="4.2"/>
<circle cx="2095.5" cy="1059.20" r="10.45" fill="none" stroke="#999" stroke-width="4.2"/>
<circle cx="2137.2" cy="1059.20" r="10.45" fill="none" stroke="#999" stroke-width="4.2"/>
<circle cx="2220.6" cy="1059.20" r="10.45" fill="none" stroke="#999" stroke-width="4.2"/>
<circle cx="2262.3" cy="1059.20" r="10.45" fill="none" stroke="#999" stroke-width="4.2"/>
<circle cx="2304.0" cy="1059.20" r="10.45" fill="none" stroke="#999" stroke-width="4.2"/>
<circle cx="2345.7" cy="1059.20" r="10.45" fill="none" stroke="#999" stroke-width="4.2"/>
<circle cx="2387.4" cy="1059.20" r="10.45" fill="none" stroke="#999" stroke-width="4.2"/>
<circle cx="2429.1" cy="1059.20" r="10.45" fill="none" stroke="#999" stroke-width="4.2"/>
<circle cx="2470.8" cy="1059.20" r="10.45" fill="none" stroke="#999" stroke-width="4.2"/>
<circle cx="2512.5" cy="1059.20" r="10.45" fill="none" stroke="#999" stroke-width="4.2"/>
<circle cx="2554.2" cy="1059.20" r="10.45" fill="none" stroke="#999" stroke-width="4.2"/>
<circle cx="2595.9" cy="1059.20" r="10.45" fill="none" stroke="#999" stroke-width="4.2"/>
<circle cx="2637.6" cy="1059.20" r="10.45" fill="none" stroke="#999" stroke-width="4.2"/>
<circle cx="2679.3" cy="1059.20" r="10.45" fill="none" stroke="#999" stroke-width="4.2"/>
<circle cx="2721.0" cy="1059.20" r="10.45" fill="none" stroke="#999" stroke-width="4.2"/>
<circle cx="2762.7" cy="1059.20" r="10.45" fill="none" stroke="#999" stroke-width="4.2"/>
<circle cx="2804.4" cy="1059.20" r="10.45" fill="none" stroke="#999" stroke-width="4.2"/>
<circle cx="2846.1" cy="1059.20" r="10.45" fill="none" stroke="#999" stroke-width="4.2"/>
<circle cx="2887.8" cy="1059.20" r="10.45" fill="none" stroke="#999" stroke-width="4.2"/>
<circle cx="2929.5" cy="1059.20" r="10.45" fill="none" stroke="#999" stroke-width="4.2"/>
<circle cx="2971.2" cy="1059.20" r="10.45" fill="none" stroke="#999" stroke-width="4.2"/>
<circle cx="3012.9" cy="1059.20" r="10.45" fill="none" stroke="#999" stroke-width="4.2"/>
<circle cx="3054.6" cy="1059.20" r="10.45" fill="none" stroke="#999" stroke-width="4.2"/>
<circle cx="1629.8" cy="1121.65" r="10.45" fill="none" stroke="#999" stroke-width="4.2"/>
<circle cx="1808.2" cy="1121.65" r="10.45" fill="none" stroke="#999" stroke-width="4.2"/>
<circle cx="1867.7" cy="1121.65" r="10.45" fill="none" stroke="#999" stroke-width="4.2"/>
<circle cx="1986.5" cy="1121.65" r="10.45" fill="none" stroke="#999" stroke-width="4.2"/>
<circle cx="2046.0" cy="1121.65" r="10.45" fill="none" stroke="#999" stroke-width="4.2"/>
<circle cx="2105.4" cy="1121.65" r="10.45" fill="none" stroke="#999" stroke-width="4.2"/>
<circle cx="2164.9" cy="1121.65" r="10.45" fill="none" stroke="#999" stroke-width="4.2"/>
<circle cx="2224.3" cy="1121.65" r="10.45" fill="none" stroke="#999" stroke-width="4.2"/>
<circle cx="2283.8" cy="1121.65" r="10.45" fill="none" stroke="#999" stroke-width="4.2"/>
<circle cx="2343.2" cy="1121.65" r="10.45" fill="none" stroke="#999" stroke-width="4.2"/>
<circle cx="2402.7" cy="1121.65" r="10.45" fill="none" stroke="#999" stroke-width="4.2"/>
<circle cx="2462.2" cy="1121.65" r="10.45" fill="none" stroke="#999" stroke-width="4.2"/>
<circle cx="2521.6" cy="1121.65" r="10.45" fill="none" stroke="#999" stroke-width="4.2"/>
<circle cx="2581.1" cy="1121.65" r="10.45" fill="none" stroke="#999" stroke-width="4.2"/>
<circle cx="2699.9" cy="1121.65" r="10.45" fill="none" stroke="#999" stroke-width="4.2"/>
<circle cx="2759.4" cy="1121.65" r="10.45" fill="none" stroke="#999" stroke-width="4.2"/>
<circle cx="2818.8" cy="1121.65" r="10.45" fill="none" stroke="#999" stroke-width="4.2"/>
<circle cx="2878.3" cy="1121.65" r="10.45" fill="none" stroke="#999" stroke-width="4.2"/>
<circle cx="2937.8" cy="1121.65" r="10.45" fill="none" stroke="#999" stroke-width="4.2"/>
<circle cx="3116.1" cy="1121.65" r="10.45" fill="none" stroke="#999" stroke-width="4.2"/>
<circle cx="3413.3" cy="1121.65" r="10.45" fill="none" stroke="#999" stroke-width="4.2"/>
<circle cx="1811.5" cy="1246.55" r="10.45" fill="none" stroke="#999" stroke-width="4.2"/>
<circle cx="2358.7" cy="1246.55" r="10.45" fill="none" stroke="#999" stroke-width="4.2"/>
<circle cx="3453.1" cy="1246.55" r="10.45" fill="none" stroke="#999" stroke-width="4.2"/>
<circle cx="1690.9" cy="1309.00" r="10.45" fill="none" stroke="#999" stroke-width="4.2"/>
<circle cx="1882.9" cy="1309.00" r="10.45" fill="none" stroke="#999" stroke-width="4.2"/>
<circle cx="2074.9" cy="1309.00" r="10.45" fill="none" stroke="#999" stroke-width="4.2"/>
<circle cx="2266.9" cy="1309.00" r="10.45" fill="none" stroke="#999" stroke-width="4.2"/>
<circle cx="2650.9" cy="1309.00" r="10.45" fill="none" stroke="#999" stroke-width="4.2"/>
<circle cx="2842.9" cy="1309.00" r="10.45" fill="none" stroke="#999" stroke-width="4.2"/>
<circle cx="3034.9" cy="1309.00" r="10.45" fill="none" stroke="#999" stroke-width="4.2"/>
<circle cx="3226.9" cy="1309.00" r="10.45" fill="none" stroke="#999" stroke-width="4.2"/>
<circle cx="2345.1" cy="1371.45" r="10.45" fill="none" stroke="#999" stroke-width="4.2"/>
<circle cx="1821.8" cy="1433.90" r="10.45" fill="none" stroke="#999" stroke-width="4.2"/>
<circle cx="1885.5" cy="1433.90" r="10.45" fill="none" stroke="#999" stroke-width="4.2"/>
<circle cx="1949.2" cy="1433.90" r="10.45" fill="none" stroke="#999" stroke-width="4.2"/>
<circle cx="2013.0" cy="1433.90" r="10.45" fill="none" stroke="#999" stroke-width="4.2"/>
<circle cx="2076.8" cy="1433.90" r="10.45" fill="none" stroke="#999" stroke-width="4.2"/>
<circle cx="2140.5" cy="1433.90" r="10.45" fill="none" stroke="#999" stroke-width="4.2"/>
<circle cx="2204.2" cy="1433.90" r="10.45" fill="none" stroke="#999" stroke-width="4.2"/>
<circle cx="2268.0" cy="1433.90" r="10.45" fill="none" stroke="#999" stroke-width="4.2"/>
<circle cx="2331.8" cy="1433.90" r="10.45" fill="none" stroke="#999" stroke-width="4.2"/>
<circle cx="2395.5" cy="1433.90" r="10.45" fill="none" stroke="#999" stroke-width="4.2"/>
<circle cx="2459.2" cy="1433.90" r="10.45" fill="none" stroke="#999" stroke-width="4.2"/>
<circle cx="2586.8" cy="1433.90" r="10.45" fill="none" stroke="#999" stroke-width="4.2"/>
<circle cx="2650.5" cy="1433.90" r="10.45" fill="none" stroke="#999" stroke-width="4.2"/>
<circle cx="2714.2" cy="1433.90" r="10.45" fill="none" stroke="#999" stroke-width="4.2"/>
<circle cx="2778.0" cy="1433.90" r="10.45" fill="none" stroke="#999" stroke-width="4.2"/>
<circle cx="2841.8" cy="1433.90" r="10.45" fill="none" stroke="#999" stroke-width="4.2"/>
<circle cx="2905.5" cy="1433.90" r="10.45" fill="none" stroke="#999" stroke-width="4.2"/>
<circle cx="2969.2" cy="1433.90" r="10.45" fill="none" stroke="#999" stroke-width="4.2"/>
<circle cx="3160.5" cy="1433.90" r="10.45" fill="none" stroke="#999" stroke-width="4.2"/>
<circle cx="1556.9" cy="1496.35" r="10.45" fill="none" stroke="#999" stroke-width="4.2"/>
<circle cx="2412.4" cy="1496.35" r="10.45" fill="none" stroke="#999" stroke-width="4.2"/>
<circle cx="1491.0" cy="1621.25" r="10.45" fill="none" stroke="#999" stroke-width="4.2"/>
<circle cx="1889.6" cy="1621.25" r="10.45" fill="none" stroke="#999" stroke-width="4.2"/>
<circle cx="2088.9" cy="1621.25" r="10.45" fill="none" stroke="#999" stroke-width="4.2"/>
<circle cx="2487.5" cy="1621.25" r="10.45" fill="none" stroke="#999" stroke-width="4.2"/>
<circle cx="2686.8" cy="1621.25" r="10.45" fill="none" stroke="#999" stroke-width="4.2"/>
<circle cx="2886.1" cy="1621.25" r="10.45" fill="none" stroke="#999" stroke-width="4.2"/>
<circle cx="3085.4" cy="1621.25" r="10.45" fill="none" stroke="#999" stroke-width="4.2"/>
<circle cx="1522.8" cy="1871.05" r="10.45" fill="none" stroke="#999" stroke-width="4.2"/>
<circle cx="1850.3" cy="1871.05" r="10.45" fill="none" stroke="#999" stroke-width="4.2"/>
<circle cx="2505.3" cy="1871.05" r="10.45" fill="none" stroke="#999" stroke-width="4.2"/>
<circle cx="2832.8" cy="1871.05" r="10.45" fill="none" stroke="#999" stroke-width="4.2"/>
<circle cx="3160.3" cy="1871.05" r="10.45" fill="none" stroke="#999" stroke-width="4.2"/>
<circle cx="1739.9" cy="1995.95" r="10.45" fill="none" stroke="#999" stroke-width="4.2"/>
<circle cx="2062.2" cy="1995.95" r="10.45" fill="none" stroke="#999" stroke-width="4.2"/>
<circle cx="2706.8" cy="1995.95" r="10.45" fill="none" stroke="#999" stroke-width="4.2"/>
<circle cx="3029.1" cy="1995.95" r="10.45" fill="none" stroke="#999" stroke-width="4.2"/>
<circle cx="3351.4" cy="1995.95" r="10.45" fill="none" stroke="#999" stroke-width="4.2"/>
<circle cx="1452.3" cy="2120.85" r="10.45" fill="none" stroke="#999" stroke-width="4.2"/>
<circle cx="3423.3" cy="2120.85" r="10.45" fill="none" stroke="#999" stroke-width="4.2"/>
<circle cx="1639.4" cy="2183.30" r="10.45" fill="none" stroke="#999" stroke-width="4.2"/>
<circle cx="1847.5" cy="2183.30" r="10.45" fill="none" stroke="#999" stroke-width="4.2"/>
<circle cx="2055.6" cy="2183.30" r="10.45" fill="none" stroke="#999" stroke-width="4.2"/>
<circle cx="2263.7" cy="2183.30" r="10.45" fill="none" stroke="#999" stroke-width="4.2"/>
<circle cx="2679.9" cy="2183.30" r="10.45" fill="none" stroke="#999" stroke-width="4.2"/>
<circle cx="2888.0" cy="2183.30" r="10.45" fill="none" stroke="#999" stroke-width="4.2"/>
<circle cx="3096.1" cy="2183.30" r="10.45" fill="none" stroke="#999" stroke-width="4.2"/>
<circle cx="1781.0" cy="2433.10" r="10.45" fill="none" stroke="#999" stroke-width="4.2"/>
<circle cx="2911.2" cy="2433.10" r="10.45" fill="none" stroke="#999" stroke-width="4.2"/>
<circle cx="1657.2" cy="2495.55" r="10.45" fill="none" stroke="#999" stroke-width="4.2"/>
<circle cx="3287.2" cy="2495.55" r="10.45" fill="none" stroke="#999" stroke-width="4.2"/>
<circle cx="1746.9" cy="2558.00" r="10.45" fill="none" stroke="#999" stroke-width="4.2"/>
<circle cx="1913.6" cy="2558.00" r="10.45" fill="none" stroke="#999" stroke-width="4.2"/>
<circle cx="2080.3" cy="2558.00" r="10.45" fill="none" stroke="#999" stroke-width="4.2"/>
<circle cx="2413.7" cy="2558.00" r="10.45" fill="none" stroke="#999" stroke-width="4.2"/>
<circle cx="2580.4" cy="2558.00" r="10.45" fill="none" stroke="#999" stroke-width="4.2"/>
<circle cx="2747.1" cy="2558.00" r="10.45" fill="none" stroke="#999" stroke-width="4.2"/>
<circle cx="2913.8" cy="2558.00" r="10.45" fill="none" stroke="#999" stroke-width="4.2"/>
<circle cx="3247.2" cy="2558.00" r="10.45" fill="none" stroke="#999" stroke-width="4.2"/>
<circle cx="1681.7" cy="2620.45" r="10.45" fill="none" stroke="#999" stroke-width="4.2"/>
<circle cx="3170.3" cy="2620.45" r="10.45" fill="none" stroke="#999" stroke-width="4.2"/>
<circle cx="2255.9" cy="60.00" r="17.9" fill="#DD3100" shape-rendering="crispEdges"/>
<circle cx="2325.7" cy="122.45" r="17.9" fill="#DD3100" shape-rendering="crispEdges"/>
<circle cx="2289.9" cy="184.90" r="17.9" fill="#DD3100" shape-rendering="crispEdges"/>
<circle cx="2607.6" cy="247.35" r="17.9" fill="#DD3100" shape-rendering="crispEdges"/>
<circle cx="2481.1" cy="309.80" r="17.9" fill="#DD3100" shape-rendering="crispEdges"/>
<circle cx="2290.6" cy="372.25" r="17.9" fill="#DD3100" shape-rendering="crispEdges"/>
<circle cx="2116.7" cy="434.70" r="17.9" fill="#DD3100" shape-rendering="crispEdges"/>
<circle cx="2528.8" cy="497.15" r="17.9" fill="#DD3100" shape-rendering="crispEdges"/>
<circle cx="2454.0" cy="559.60" r="17.9" fill="#DD3100" shape-rendering="crispEdges"/>
<circle cx="2153.5" cy="622.05" r="17.9" fill="#DD3100" shape-rendering="crispEdges"/>
<circle cx="2506.6" cy="684.50" r="17.9" fill="#DD3100" shape-rendering="crispEdges"/>
<circle cx="2659.5" cy="746.95" r="17.9" fill="#DD3100" shape-rendering="crispEdges"/>
<circle cx="2449.3" cy="809.40" r="17.9" fill="#DD3100" shape-rendering="crispEdges"/>
<circle cx="2329.3" cy="871.85" r="17.9" fill="#DD3100" shape-rendering="crispEdges"/>
<circle cx="2502.6" cy="934.30" r="17.9" fill="#DD3100" shape-rendering="crispEdges"/>
<circle cx="2436.0" cy="996.75" r="17.9" fill="#DD3100" shape-rendering="crispEdges"/>
<circle cx="2178.9" cy="1059.20" r="17.9" fill="#DD3100" shape-rendering="crispEdges"/>
<circle cx="2640.5" cy="1121.65" r="17.9" fill="#DD3100" shape-rendering="crispEdges"/>
<circle cx="2417.0" cy="1184.10" r="17.9" fill="#DD3100" shape-rendering="crispEdges"/>
<circle cx="2905.9" cy="1246.55" r="17.9" fill="#DD3100" shape-rendering="crispEdges"/>
<circle cx="2458.9" cy="1309.00" r="17.9" fill="#DD3100" shape-rendering="crispEdges"/>
<circle cx="3075.9" cy="1371.45" r="17.9" fill="#DD3100" shape-rendering="crispEdges"/>
<circle cx="2523.0" cy="1433.90" r="17.9" fill="#DD3100" shape-rendering="crispEdges"/>
<circle cx="3267.9" cy="1496.35" r="17.9" fill="#DD3100" shape-rendering="crispEdges"/>
<circle cx="2418.5" cy="1558.80" r="17.9" fill="#DD3100" shape-rendering="crispEdges"/>
<circle cx="2288.2" cy="1621.25" r="17.9" fill="#DD3100" shape-rendering="crispEdges"/>
<circle cx="2417.0" cy="1683.70" r="17.9" fill="#DD3100" shape-rendering="crispEdges"/>
<circle cx="2472.2" cy="1746.15" r="17.9" fill="#DD3100" shape-rendering="crispEdges"/>
<circle cx="2421.3" cy="1808.60" r="17.9" fill="#DD3100" shape-rendering="crispEdges"/>
<circle cx="2177.8" cy="1871.05" r="17.9" fill="#DD3100" shape-rendering="crispEdges"/>
<circle cx="2421.3" cy="1933.50" r="17.9" fill="#DD3100" shape-rendering="crispEdges"/>
<circle cx="2384.5" cy="1995.95" r="17.9" fill="#DD3100" shape-rendering="crispEdges"/>
<circle cx="2432.5" cy="2058.40" r="17.9" fill="#DD3100" shape-rendering="crispEdges"/>
<circle cx="2437.8" cy="2120.85" r="17.9" fill="#DD3100" shape-rendering="crispEdges"/>
<circle cx="2471.8" cy="2183.30" r="17.9" fill="#DD3100" shape-rendering="crispEdges"/>
<circle cx="2413.1" cy="2245.75" r="17.9" fill="#DD3100" shape-rendering="crispEdges"/>
<circle cx="2449.6" cy="2308.20" r="17.9" fill="#DD3100" shape-rendering="crispEdges"/>
<circle cx="2449.6" cy="2370.65" r="17.9" fill="#DD3100" shape-rendering="crispEdges"/>
<circle cx="2346.1" cy="2433.10" r="17.9" fill="#DD3100" shape-rendering="crispEdges"/>
<circle cx="2472.2" cy="2495.55" r="17.9" fill="#DD3100" shape-rendering="crispEdges"/>
<circle cx="2247.0" cy="2558.00" r="17.9" fill="#DD3100" shape-rendering="crispEdges"/>
<circle cx="2426.0" cy="2620.45" r="17.9" fill="#DD3100" shape-rendering="crispEdges"/>
<path d="M1937.27 22.6V2658.8" stroke="#d9d9d9" stroke-width="5.4"/>
<path d="M1937.27 22.6V2658.8" stroke="#7f7f7f" stroke-width="6.8" stroke-dasharray="4 4" stroke-dashoffset="1.0"/>
<path d="M2962.23 22.6V2658.8" stroke="#d9d9d9" stroke-width="5.4"/>
<path d="M2962.23 22.6V2658.8" stroke="#7f7f7f" stroke-width="6.8" stroke-dasharray="4 4" stroke-dashoffset="1.0"/>
<path d="M2449.42 22.6V2658.8" stroke="#7f7f7f" stroke-width="5.1"/>
</g>
<path d="M1322.3 22.6H3578.2V25.9H1322.3Z M1322.3 22.6H1325.8V2658.8H1322.3Z M3574.4 22.6H3578.2V2658.8H3574.4Z M1322.3 2654.4H3578.2V2658.8H1322.3Z" fill="#000"/>
<path d="M1311.10 60.00H1322.3M1311.10 122.45H1322.3M1311.10 184.90H1322.3M1311.10 247.35H1322.3M1311.10 309.80H1322.3M1311.10 372.25H1322.3M1311.10 434.70H1322.3M1311.10 497.15H1322.3M1311.10 559.60H1322.3M1311.10 622.05H1322.3M1311.10 684.50H1322.3M1311.10 746.95H1322.3M1311.10 809.40H1322.3M1311.10 871.85H1322.3M1311.10 934.30H1322.3M1311.10 996.75H1322.3M1311.10 1059.20H1322.3M1311.10 1121.65H1322.3M1311.10 1184.10H1322.3M1311.10 1246.55H1322.3M1311.10 1309.00H1322.3M1311.10 1371.45H1322.3M1311.10 1433.90H1322.3M1311.10 1496.35H1322.3M1311.10 1558.80H1322.3M1311.10 1621.25H1322.3M1311.10 1683.70H1322.3M1311.10 1746.15H1322.3M1311.10 1808.60H1322.3M1311.10 1871.05H1322.3M1311.10 1933.50H1322.3M1311.10 1995.95H1322.3M1311.10 2058.40H1322.3M1311.10 2120.85H1322.3M1311.10 2183.30H1322.3M1311.10 2245.75H1322.3M1311.10 2308.20H1322.3M1311.10 2370.65H1322.3M1311.10 2433.10H1322.3M1311.10 2495.55H1322.3M1311.10 2558.00H1322.3M1311.10 2620.45H1322.3M1424.79 2658.8V2668.90M1681.03 2658.8V2668.90M1937.27 2658.8V2668.90M2193.51 2658.8V2668.90M2449.75 2658.8V2668.90M2705.99 2658.8V2668.90M2962.23 2658.8V2668.90M3218.47 2658.8V2668.90M3474.71 2658.8V2668.90" stroke="#333" stroke-width="5.9" fill="none"/>
<text x="1302.5" y="75.00" font-size="58.8" fill="#B5838D" text-anchor="end">1.0 Global and overview maps</text>
<text x="1302.5" y="137.45" font-size="58.8" fill="#B5838D" text-anchor="end">1.1 Carbohydrate metabolism</text>
<text x="1302.5" y="199.90" font-size="58.8" fill="#B5838D" text-anchor="end">1.2 Energy metabolism</text>
<text x="1302.5" y="262.35" font-size="58.8" fill="#B5838D" text-anchor="end">1.3 Lipid metabolism</text>
<text x="1302.5" y="324.80" font-size="58.8" fill="#B5838D" text-anchor="end">1.4 Nucleotide metabolism</text>
<text x="1302.5" y="387.25" font-size="58.8" fill="#B5838D" text-anchor="end">1.5 Amino acid metabolism</text>
<text x="1302.5" y="449.70" font-size="58.8" fill="#B5838D" text-anchor="end">1.6 Metabolism of other amino acids</text>
<text x="1302.5" y="512.15" font-size="58.8" fill="#B5838D" text-anchor="end">1.7 Glycan biosynthesis and metabolism</text>
<text x="1302.5" y="574.60" font-size="58.8" fill="#B5838D" text-anchor="end">1.8 Metabolism of cofactors and vitamins</text>
<text x="1302.5" y="637.05" font-size="58.8" fill="#B5838D" text-anchor="end">1.9 Metabolism of terpenoids and polyketides</text>
<text x="1302.5" y="699.50" font-size="58.8" fill="#B5838D" text-anchor="end">1.10 Biosynthesis of other secondary metabolites</text>
<text x="1302.5" y="761.95" font-size="58.8" fill="#B5838D" text-anchor="end">1.11 Xenobiotics biodegradation and metabolism</text>
<text x="1302.5" y="824.40" font-size="58.8" fill="#287C9E" text-anchor="end">2.1 Transcription</text>
<text x="1302.5" y="886.85" font-size="58.8" fill="#287C9E" text-anchor="end">2.2 Translation</text>
<text x="1302.5" y="949.30" font-size="58.8" fill="#287C9E" text-anchor="end">2.3 Folding, sorting and degradation</text>
<text x="1302.5" y="1011.75" font-size="58.8" fill="#287C9E" text-anchor="end">2.4 Replication and repair</text>
<text x="1302.5" y="1074.20" font-size="58.8" fill="#F07030" text-anchor="end">3.1 Membrane transport</text>
<text x="1302.5" y="1136.65" font-size="58.8" fill="#F07030" text-anchor="end">3.2 Signal transduction</text>
<text x="1302.5" y="1199.10" font-size="58.8" fill="#F07030" text-anchor="end">3.3 Signaling molecules and interaction</text>
<text x="1302.5" y="1261.55" font-size="58.8" fill="#4FA8DE" text-anchor="end">4.1 Transport and catabolism</text>
<text x="1302.5" y="1324.00" font-size="58.8" fill="#4FA8DE" text-anchor="end">4.2 Cell growth and death</text>
<text x="1302.5" y="1386.45" font-size="58.8" fill="#4FA8DE" text-anchor="end">4.3 Cellular community - eukaryotes</text>
<text x="1302.5" y="1448.90" font-size="58.8" fill="#4FA8DE" text-anchor="end">4.4 Cellular community - prokaryotes</text>
<text x="1302.5" y="1511.35" font-size="58.8" fill="#4FA8DE" text-anchor="end">4.5 Cell motility</text>
<text x="1302.5" y="1573.80" font-size="58.8" fill="#F7941D" text-anchor="end">5.1 Immune system</text>
<text x="1302.5" y="1636.25" font-size="58.8" fill="#F7941D" text-anchor="end">5.2 Endocrine system</text>
<text x="1302.5" y="1698.70" font-size="58.8" fill="#F7941D" text-anchor="end">5.4 Digestive system</text>
<text x="1302.5" y="1761.15" font-size="58.8" fill="#F7941D" text-anchor="end">5.5 Excretory system</text>
<text x="1302.5" y="1823.60" font-size="58.8" fill="#F7941D" text-anchor="end">5.6 Nervous system</text>
<text x="1302.5" y="1886.05" font-size="58.8" fill="#F7941D" text-anchor="end">5.9 Aging</text>
<text x="1302.5" y="1948.50" font-size="58.8" fill="#F7941D" text-anchor="end">5.10 Environmental adaptation</text>
<text x="1302.5" y="2010.95" font-size="58.8" fill="#8CBE6A" text-anchor="end">6.1 Cancer: overview</text>
<text x="1302.5" y="2073.40" font-size="58.8" fill="#8CBE6A" text-anchor="end">6.2 Cancer: specific types</text>
<text x="1302.5" y="2135.85" font-size="58.8" fill="#8CBE6A" text-anchor="end">6.3 Infectious disease: viral</text>
<text x="1302.5" y="2198.30" font-size="58.8" fill="#8CBE6A" text-anchor="end">6.4 Infectious disease: bacterial</text>
<text x="1302.5" y="2260.75" font-size="58.8" fill="#8CBE6A" text-anchor="end">6.5 Infectious disease: parasitic</text>
<text x="1302.5" y="2323.20" font-size="58.8" fill="#8CBE6A" text-anchor="end">6.6 Immune disease</text>
<text x="1302.5" y="2385.65" font-size="58.8" fill="#8CBE6A" text-anchor="end">6.7 Neurodegenerative disease</text>
<text x="1302.5" y="2448.10" font-size="58.8" fill="#8CBE6A" text-anchor="end">6.9 Cardiovascular disease</text>
<text x="1302.5" y="2510.55" font-size="58.8" fill="#8CBE6A" text-anchor="end">6.10 Endocrine and metabolic disease</text>
<text x="1302.5" y="2573.00" font-size="58.8" fill="#8CBE6A" text-anchor="end">6.11 Drug resistance: antimicrobial</text>
<text x="1302.5" y="2635.45" font-size="58.8" fill="#8CBE6A" text-anchor="end">6.12 Drug resistance: antineoplastic</text>
<text x="1424.79" y="2720.5" font-size="58.8" fill="#4d4d4d" text-anchor="middle">-4</text>
<text x="1681.03" y="2720.5" font-size="58.8" fill="#4d4d4d" text-anchor="middle">-3</text>
<text x="1937.27" y="2720.5" font-size="58.8" fill="#4d4d4d" text-anchor="middle">-2</text>
<text x="2193.51" y="2720.5" font-size="58.8" fill="#4d4d4d" text-anchor="middle">-1</text>
<text x="2449.75" y="2720.5" font-size="58.8" fill="#4d4d4d" text-anchor="middle">0</text>
<text x="2705.99" y="2720.5" font-size="58.8" fill="#4d4d4d" text-anchor="middle">1</text>
<text x="2962.23" y="2720.5" font-size="58.8" fill="#4d4d4d" text-anchor="middle">2</text>
<text x="3218.47" y="2720.5" font-size="58.8" fill="#4d4d4d" text-anchor="middle">3</text>
<text x="3474.71" y="2720.5" font-size="58.8" fill="#4d4d4d" text-anchor="middle">4</text>
<text transform="translate(2449.75,2798.5) scale(0.955,1)" font-size="75.3" font-weight="bold" fill="#000" text-anchor="middle">Z-score</text>
<circle cx="2142.5" cy="2917.9" r="10.45" fill="none" stroke="#999" stroke-width="4.2"/>
<text x="2198.6" y="2940" font-size="59.7" fill="#000">Background</text>
<circle cx="2574.3" cy="2917.9" r="17.6" fill="#DD3100" shape-rendering="crispEdges"/>
<text x="2630.5" y="2940" font-size="59.7" fill="#000">Query</text>
</svg></body></html>
